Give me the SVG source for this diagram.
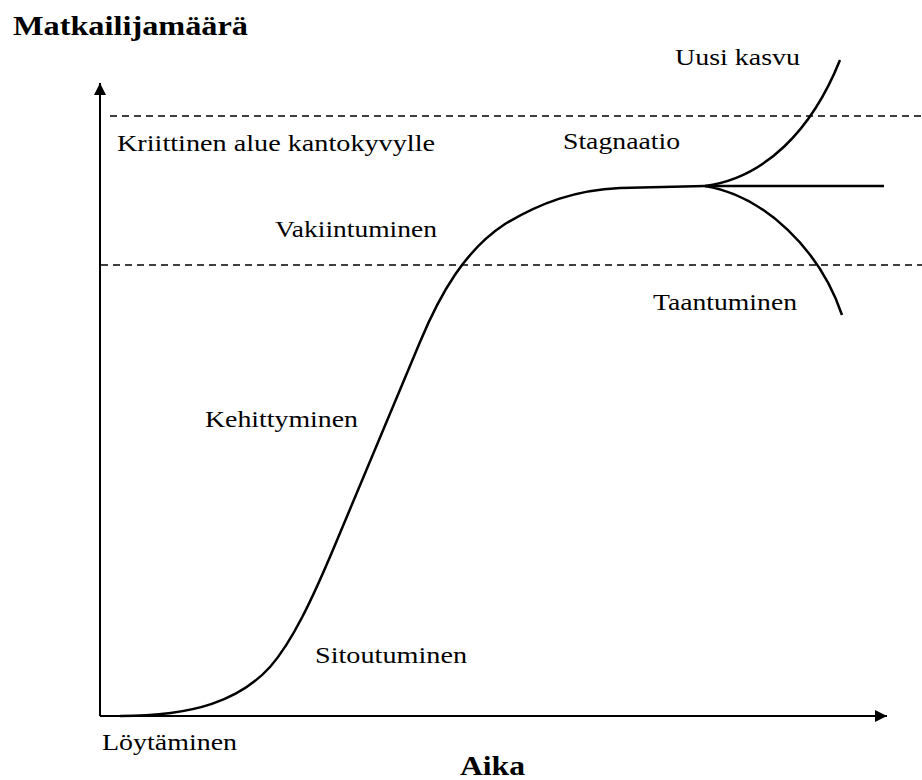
<svg xmlns="http://www.w3.org/2000/svg" width="922" height="780" viewBox="0 0 922 780">
<style>
.t{font-family:"Liberation Serif","Times New Roman",serif;font-size:23px;fill:#000}
.b{font-family:"Liberation Serif","Times New Roman",serif;font-size:28px;font-weight:bold;fill:#000}
.ax{stroke:#000;stroke-width:2;fill:none}
.dash{stroke:#000;stroke-width:1.3;stroke-dasharray:7 5;fill:none}
.cv{stroke:#000;stroke-width:2.5;fill:none}
</style>
<defs>
<marker id="ah" viewBox="0 0 10 10" refX="10" refY="5" markerWidth="7" markerHeight="6" orient="auto" markerUnits="strokeWidth">
<path d="M0,0 L10,5 L0,10 z" fill="#000"/>
</marker>
</defs>
<rect width="922" height="780" fill="#fff"/>
<g id="axes">
<line class="ax" x1="100" y1="716" x2="100" y2="83" marker-end="url(#ah)"/>
<line class="ax" x1="100" y1="716" x2="887" y2="716" marker-end="url(#ah)"/>
</g>
<g id="limits">
<line class="dash" x1="110" y1="116" x2="922" y2="116"/>
<line class="dash" x1="101" y1="265" x2="922" y2="265"/>
</g>
<g id="connectors">
<path class="cv" d="M120,716 C195,716 240,700 270,667 C292,642 312,600 335,545 L420,342 C440,294 465,250 505,224 C540,203 575,190 620,188 L705,186"/>
<path class="cv" d="M705,186 C765,178 812,130 840,60"/>
<path class="cv" d="M705,186 L884,186"/>
<path class="cv" d="M705,186 C765,196 820,250 842,315"/>
</g>
<g id="labels">
<text class="b" x="13" y="35" textLength="235" lengthAdjust="spacingAndGlyphs">Matkailijamäärä</text>
<text class="t" x="117" y="151" textLength="318" lengthAdjust="spacingAndGlyphs">Kriittinen alue kantokyvylle</text>
<text class="t" x="563" y="149" textLength="117" lengthAdjust="spacingAndGlyphs">Stagnaatio</text>
<text class="t" x="675" y="65" textLength="125" lengthAdjust="spacingAndGlyphs">Uusi kasvu</text>
<text class="t" x="275" y="237" textLength="162" lengthAdjust="spacingAndGlyphs">Vakiintuminen</text>
<text class="t" x="653" y="310" textLength="144" lengthAdjust="spacingAndGlyphs">Taantuminen</text>
<text class="t" x="205" y="427" textLength="153" lengthAdjust="spacingAndGlyphs">Kehittyminen</text>
<text class="t" x="315" y="663" textLength="152" lengthAdjust="spacingAndGlyphs">Sitoutuminen</text>
<text class="t" x="102" y="750" textLength="135" lengthAdjust="spacingAndGlyphs">Löytäminen</text>
<text class="b" x="460" y="775" textLength="65" lengthAdjust="spacingAndGlyphs">Aika</text>
</g>
</svg>
